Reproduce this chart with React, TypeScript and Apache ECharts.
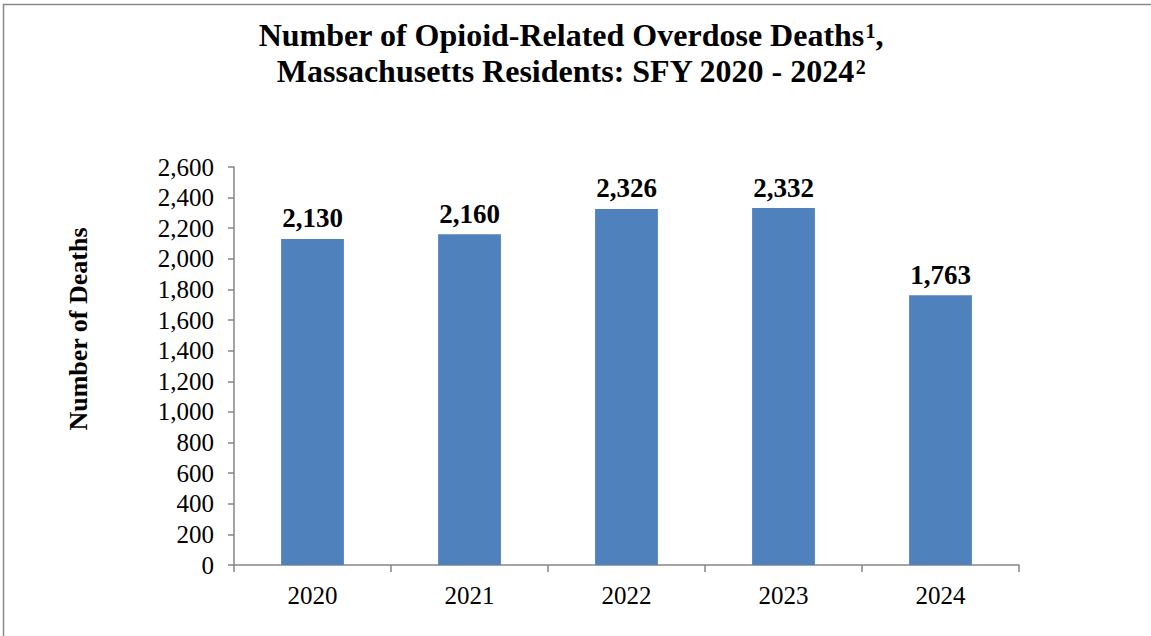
import React, { useEffect, useRef } from "react";
import * as echarts from "echarts";

const categories = ["2020", "2021", "2022", "2023", "2024"];
const deaths = [2130, 2160, 2326, 2332, 1763];
const titleLine1 = "Number of Opioid-Related Overdose Deaths";
const titleLine1Sup = "1";
const titleLine1End = ",";
const titleLine2 = "Massachusetts Residents: SFY 2020 - 2024";
const titleLine2Sup = "2";
const yAxisName = "Number of Deaths";

const FONT = "'Liberation Serif', 'Times New Roman', serif";

export default function App() {
  const ref = useRef<HTMLDivElement>(null);
  useEffect(() => {
    if (!ref.current) return;
    const chart = echarts.init(ref.current, null, { renderer: "svg" });
    chart.setOption({
      animation: false,
      backgroundColor: "#ffffff",
      graphic: [
        {
          type: "rect",
          shape: { x: 3.5, y: 4.5, width: 1200, height: 700 },
          style: { fill: "none", stroke: "#888888", lineWidth: 1.5 },
          silent: true,
        },
        {
          type: "text",
          x: 571,
          y: 17,
          style: {
            text: `{m|${titleLine1}}{s|${titleLine1Sup}}{m|${titleLine1End}}\n{m|${titleLine2}}{s|${titleLine2Sup}}`,
            textAlign: "center",
            textVerticalAlign: "top",
            rich: {
              m: {
                font: `bold 32px ${FONT}`,
                fill: "#000000",
                lineHeight: 36,
              },
              s: {
                font: `bold 20px ${FONT}`,
                fill: "#000000",
                lineHeight: 36,
                verticalAlign: "top",
                padding: [4, 0, 0, 1],
              },
            },
          },
        },
        {
          type: "text",
          x: 78,
          y: 329,
          rotation: Math.PI / 2,
          style: {
            text: yAxisName,
            font: `bold 26px ${FONT}`,
            fill: "#000000",
            textAlign: "center",
            textVerticalAlign: "middle",
          },
        },
      ],
      grid: { left: 234, right: 132, top: 167, bottom: 71, containLabel: false },
      xAxis: {
        type: "category",
        data: categories,
        boundaryGap: true,
        axisLine: { show: true, lineStyle: { color: "#868686", width: 1.5 } },
        axisTick: { show: true, alignWithLabel: false, length: 7, lineStyle: { color: "#868686", width: 1.5 } },
        axisLabel: { color: "#000000", fontFamily: FONT, fontSize: 25, margin: 18 },
      },
      yAxis: {
        type: "value",
        min: 0,
        max: 2600,
        interval: 200,
        axisLine: { show: true, lineStyle: { color: "#868686", width: 1.5 } },
        axisTick: { show: true, length: 6, lineStyle: { color: "#868686", width: 1.5 } },
        splitLine: { show: false },
        axisLabel: {
          color: "#000000",
          fontFamily: FONT,
          fontSize: 25,
          margin: 20,
          formatter: (v: number) => v.toLocaleString("en-US"),
        },
      },
      series: [
        {
          type: "bar",
          data: deaths,
          barWidth: "40%",
          itemStyle: { color: "#4F81BD" },
          label: {
            show: true,
            position: "top",
            distance: 7,
            color: "#000000",
            fontFamily: FONT,
            fontSize: 27,
            fontWeight: "bold",
            formatter: (p: any) => Number(p.value).toLocaleString("en-US"),
          },
        },
      ],
    });
    return () => chart.dispose();
  }, []);
  return (
    <div
      ref={ref}
      style={{ position: "absolute", left: 0, top: 0, width: 1151, height: 636 }}
    />
  );
}
